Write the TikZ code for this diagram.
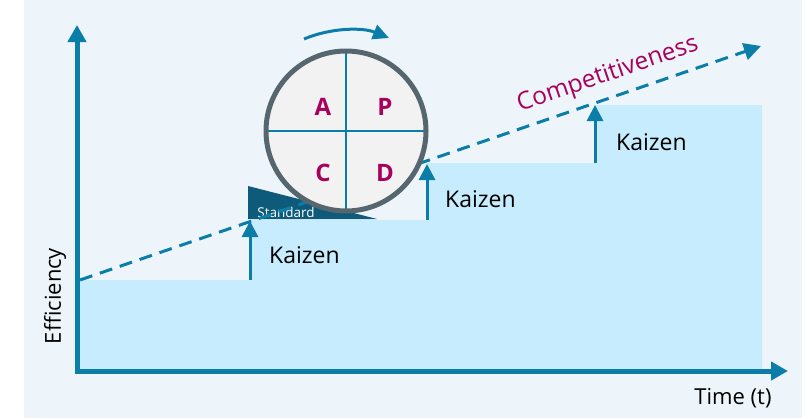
\documentclass[tikz,border=0pt]{standalone}
\usepackage{fontspec}
\setmainfont{Open Sans}
\usetikzlibrary{arrows.meta}

\definecolor{panelbg}{HTML}{EEF5FA}
\definecolor{stepblue}{HTML}{C7ECFD}
\definecolor{axisblue}{HTML}{0A7EA9}
\definecolor{pdcamag}{HTML}{A8005E}
\definecolor{ringgray}{HTML}{56666F}
\definecolor{stddark}{HTML}{0D5A7B}
\definecolor{wheelfill}{HTML}{F2F2F2}

\tikzset{
  axisline/.style={axisblue, line width=5pt, -{Triangle[length=17pt,width=18pt]}},
  kaizenarrow/.style={axisblue, line width=3pt, -{Triangle[length=16pt,width=16pt]}},
  kaizenlabel/.style={anchor=west, inner sep=0pt, font=\fontsize{23}{26}\selectfont},
  axislabel/.style={inner sep=0pt, font=\fontsize{22}{26}\selectfont},
  pdcaletter/.style={text=pdcamag, font=\fontsize{24}{28}\selectfont\bfseries},
  crossline/.style={axisblue, line width=2.5pt},
}

\begin{document}
\begin{tikzpicture}[x=1pt,y=-1pt]
  \useasboundingbox (0,0) rectangle (810,418);
  \fill[panelbg] (24,0) rectangle (802,418);

  % steps
  \coordinate (O) at (77,371);
  \coordinate (s0) at (77,280);
  \coordinate (s1) at (250,280);
  \coordinate (t1) at (250,220);
  \coordinate (s2) at (427,220);
  \coordinate (t2) at (427,163);
  \coordinate (s3) at (595,163);
  \coordinate (t3) at (595,105);
  \coordinate (s4) at (762,105);
  \coordinate (s5) at (762,371);
  \fill[stepblue] (O) -- (s0) -- (s1) -- (t1) -- (s2) -- (t2) -- (s3) -- (t3) -- (s4) -- (s5) -- cycle;

  % standard wedge
  \coordinate (wa) at (248,186);
  \coordinate (wb) at (377,219);
  \coordinate (wc) at (248,219);
  \fill[stddark] (wa) -- (wb) -- (wc) -- cycle;
  \node[text=white, inner sep=0pt, font=\fontsize{13.5}{15}\selectfont] (std) at (286,212) {Standard};

  % competitiveness line
  \coordinate (c0) at (80,280);
  \coordinate (c1) at (761,46);
  \draw[axisblue, line width=3pt, dash pattern=on 13pt off 8pt, -{Triangle[length=17pt,width=17pt]}] (c0) -- (c1);
  \node[text=pdcamag, rotate=18.9, inner sep=0pt, font=\fontsize{24.5}{28}\selectfont] (comp) at (608,75) {Competitiveness};

  % kaizen
  \draw[kaizenarrow] (s1) -- (250,221);
  \draw[kaizenarrow] (s2) -- (427,164);
  \draw[kaizenarrow] (s3) -- (595,105);
  \node[kaizenlabel] (k1) at (269,255.5) {Kaizen};
  \node[kaizenlabel] (k2) at (445,199.5) {Kaizen};
  \node[kaizenlabel] (k3) at (616,142.5) {Kaizen};

  % pdca wheel
  \node[circle, fill=wheelfill, minimum size=160pt, inner sep=0pt] (wheel) at (346,131) {};
  \draw[crossline] (wheel.north) -- (wheel.south);
  \draw[crossline] (wheel.west) -- (wheel.east);
  \draw[ringgray, line width=5pt] (wheel.center) circle [radius=80];
  \node[pdcaletter] (A) at (323,107) {A};
  \node[pdcaletter] (P) at (385,107) {P};
  \node[pdcaletter] (C) at (323,173) {C};
  \node[pdcaletter] (D) at (385,173) {D};
  \coordinate (r0) at (304,39);
  \coordinate (r1) at (389,38);
  \draw[axisblue, line width=3pt, -{Triangle[length=16pt,width=15pt]}] (r0) .. controls (330,28) and (362,27) .. (r1);

  % axes
  \coordinate (ybot) at (77,373.5);
  \coordinate (ytop) at (77,25);
  \coordinate (xbeg) at (74.5,371);
  \coordinate (xend) at (788,371);
  \draw[axisline] (ybot) -- (ytop);
  \draw[axisline] (xbeg) -- (xend);
  \node[axislabel, rotate=90] (eff) at (55,296) {Efficiency};
  \node[axislabel] (time) at (733,398) {Time (t)};
\end{tikzpicture}
\end{document}
